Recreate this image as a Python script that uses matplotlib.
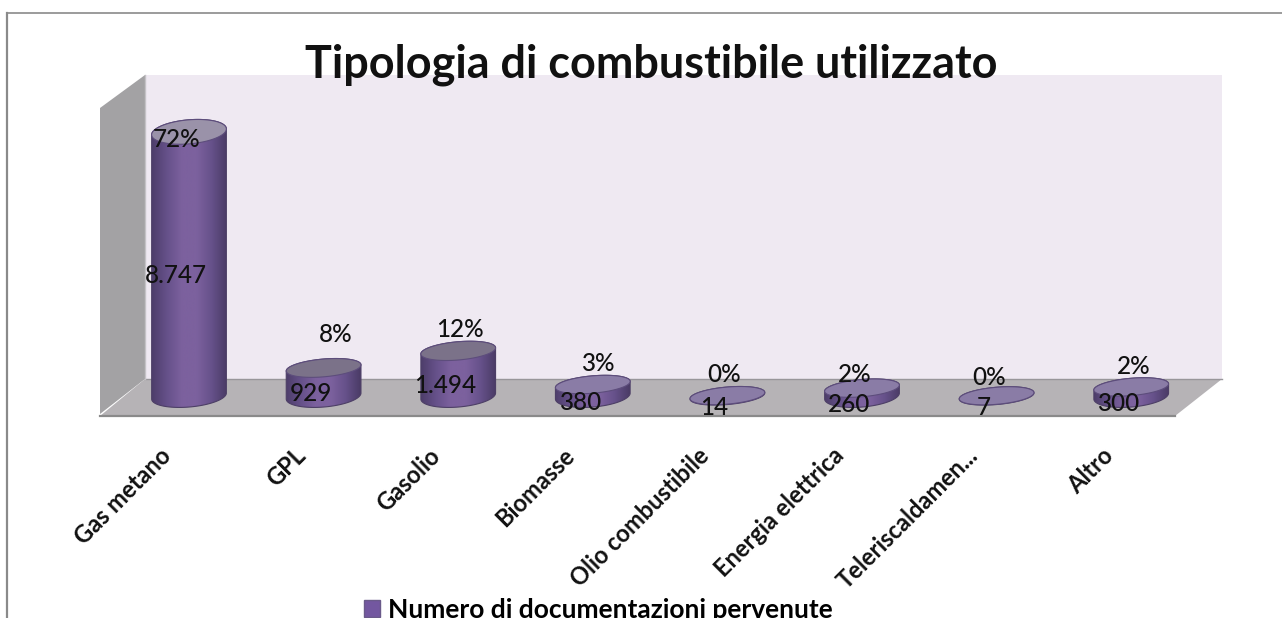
import numpy as np
import matplotlib
matplotlib.use("Agg")
import matplotlib.pyplot as plt
from matplotlib.patches import Polygon, Patch
from matplotlib.lines import Line2D
from matplotlib.transforms import Affine2D, ScaledTranslation
from matplotlib.colors import LinearSegmentedColormap

# ---- data ----
categories = ["Gas metano", "GPL", "Gasolio", "Biomasse", "Olio combustibile",
              "Energia elettrica", "Teleriscaldamen...", "Altro"]
values = [8747, 929, 1494, 380, 14, 260, 7, 300]
value_labels = ["8.747", "929", "1.494", "380", "14", "260", "7", "300"]
percent_labels = ["72%", "8%", "12%", "3%", "0%", "2%", "0%", "2%"]
series_name = "Numero di documentazioni pervenute"

# ---- layout (pixels of the 1282x618 canvas) ----
W, H = 1282, 618
AX_L, AX_R, AX_T, AX_B = 100, 1222, 75, 416
FIRST_X, STEP_X, BASE_Y, PX_PER_UNIT = 189, 134.6, 396, 0.0302
CYL_W = 75
TILT = np.deg2rad(5)
pct_offsets = [(-12, 8), (12, -33), (2, -21), (5, -21), (-3, -21), (-7, -14), (-8, -18), (2, -20)]
FONT = "Lato"

fig = plt.figure(figsize=(W / 100, H / 100), dpi=100, facecolor="white")
ax = fig.add_axes([AX_L / W, 1 - AX_B / H, (AX_R - AX_L) / W, (AX_B - AX_T) / H])
ax.set_zorder(1)
ax.patch.set_visible(False)
for s in ax.spines.values():
    s.set_visible(False)
xlim = ((AX_L - FIRST_X) / STEP_X, (AX_R - FIRST_X) / STEP_X)
ylim = ((BASE_Y - AX_B) / PX_PER_UNIT, (BASE_Y - AX_T) / PX_PER_UNIT)

# pixel transform used for the chart furniture only
px = Affine2D().scale(1 / W, -1 / H).translate(0, 1) + fig.transFigure


def furn(pts, color, z=0.5, **kw):
    fig.add_artist(Polygon(pts, closed=True, facecolor=color, edgecolor="none",
                           transform=px, zorder=z, **kw))


furn([(145, 75), (1222, 75), (1222, 379), (145, 379)], "#efe9f2")
furn([(100, 108), (145, 75), (145, 379), (100, 414)], "#a3a2a4")
furn([(145, 379), (1222, 379), (1175, 416), (100, 416)], "#b6b3b6")
for seg, col, lw in [(((145, 379), (1222, 379)), "#98969a", 1.0),
                     (((100, 415.5), (1175, 415.5)), "#8a8a8a", 1.6),
                     (((145, 75), (145, 379)), "#c4c2c6", 1.0),
                     (((6.5, 618), (6.5, 13)), "#8a8a8a", 1.6),
                     (((6.5, 13), (1282, 13)), "#8a8a8a", 1.2)]:
    fig.add_artist(Line2D([seg[0][0], seg[1][0]], [seg[0][1], seg[1][1]],
                          color=col, lw=lw, transform=px, zorder=0.6))

cyl_cmap = LinearSegmentedColormap.from_list(
    "cyl", ["#4e3e6b", "#66518a", "#7c619e", "#7c619e", "#66518a", "#4a3b66"])
gradient = np.linspace(0, 1, 128)[None, :]


def ellipse_pts(i, v, h, t):
    """Tilted ellipse around category i at value v; sizes in px, result in data units."""
    a, b = CYL_W / 2, h / 2
    dx = a * np.cos(t) * np.cos(TILT) - b * np.sin(t) * np.sin(TILT)
    dy = a * np.cos(t) * np.sin(TILT) + b * np.sin(t) * np.cos(TILT)
    return np.column_stack([i + dx / STEP_X, v + dy / PX_PER_UNIT])


def cap_color(v):
    if v > 5000:
        return "#9a92a9"
    if v > 900:
        return "#7b7289"
    return "#8a7ca6"


vmax = max(values)
for i, v in enumerate(values):
    top_h = 17 + 7 * v / vmax
    low = ellipse_pts(i, 0, 22 if v > 100 else 17, np.linspace(np.pi, 2 * np.pi, 60))
    upp = ellipse_pts(i, v, top_h, np.linspace(0, np.pi, 60))
    body = Polygon(np.vstack([low, upp]), closed=True, facecolor="none",
                   edgecolor="#4d3f66", lw=0.8, zorder=2)
    ax.add_patch(body)
    im = ax.imshow(gradient, cmap=cyl_cmap, aspect="auto", zorder=1.9,
                   extent=(i - CYL_W / 2 / STEP_X, i + CYL_W / 2 / STEP_X,
                           -30 / PX_PER_UNIT, v + 30 / PX_PER_UNIT))
    im.set_clip_path(body)
    cap = Polygon(ellipse_pts(i, v, top_h, np.linspace(0, 2 * np.pi, 120)), closed=True,
                  facecolor=cap_color(v), edgecolor="#5d4d7c", lw=0.8, zorder=2.2)
    ax.add_patch(cap)

    ax.annotate(value_labels[i], (i, v / 2), xytext=(-13 * 0.72, -12 * 0.72),
                textcoords="offset points", ha="center", va="center",
                fontsize=17.5, family=FONT, fontweight="medium", color="#111111",
                zorder=3, annotation_clip=False)
    ox, oy = pct_offsets[i]
    ax.annotate(percent_labels[i], (i, v), xytext=(ox * 0.72, -oy * 0.72),
                textcoords="offset points", ha="center", va="center",
                fontsize=17.5, family=FONT, fontweight="medium", color="#111111",
                zorder=3, annotation_clip=False)

ax.set_xlim(xlim)
ax.set_ylim(ylim)
ax.set_yticks([])
ax.set_xticks(range(len(categories)))
ax.set_xticklabels(categories, rotation=45, ha="right", va="top", rotation_mode="anchor",
                   fontsize=17, family=FONT, fontweight="bold", color="#111111")
ax.tick_params(axis="x", length=0, pad=20)
shift = ScaledTranslation(-30 / 100, 0, fig.dpi_scale_trans)
for lab in ax.get_xticklabels():
    lab.set_transform(lab.get_transform() + shift)

fig.text(651 / W, 1 - 77 / H, "Tipologia di combustibile utilizzato", ha="center", va="baseline",
         fontsize=32.4, family=FONT, fontweight="bold", color="#111111", zorder=5)

fig.legend(handles=[Patch(facecolor="#7357a0", edgecolor="#6a5a8a", label=series_name)],
           loc="lower left", bbox_to_anchor=(351 / W, -17 / H), frameon=False, borderpad=0,
           handlelength=0.6, handleheight=0.6, handletextpad=0.3,
           prop={"family": FONT, "size": 19, "weight": "bold"})

fig.savefig("out.png", dpi=100)
